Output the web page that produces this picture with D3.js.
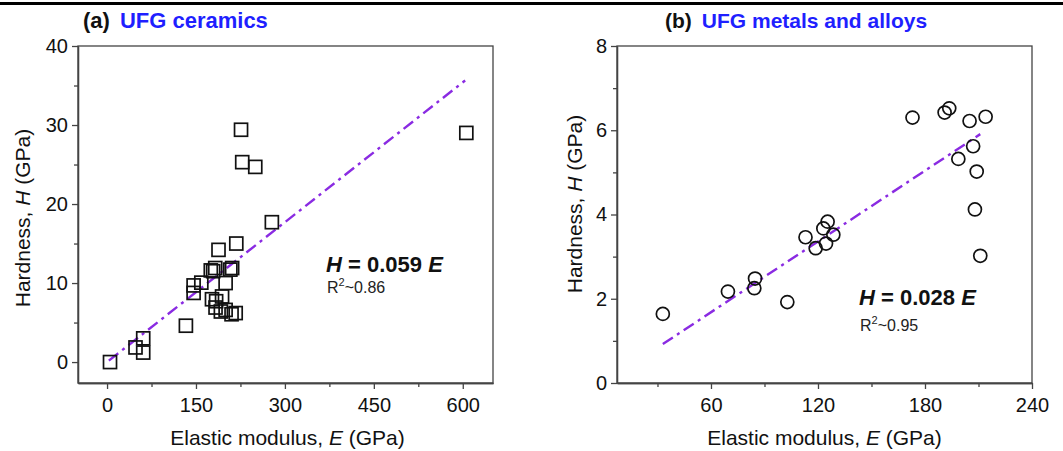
<!DOCTYPE html>
<html>
<head>
    <title>Hardness vs Elastic modulus</title>
    <script src="https://d3js.org/d3.v7.min.js"></script>
    <style>
        body { margin: 0; background: #fff; }
        text { font-family: "Liberation Sans", Arial, sans-serif; }
    </style>
</head>
<body>
    <svg width="1063" height="451"></svg>
    <script>
        // (a) UFG ceramics: elastic modulus E (GPa) and hardness H (GPa)
        const ceramicE = [5, 48, 61, 61, 133, 146, 146, 159, 175, 179, 182.5, 188, 218, 208, 211,
                          200, 177, 194, 184, 183, 192, 200, 210, 217, 226, 228, 250, 278, 606];
        const ceramicH = [0, 1.85, 3.0, 1.2, 4.6, 9.7, 8.75, 10.05, 11.6, 11.5, 11.9, 14.2, 15.0, 11.7, 11.9,
                          10.0, 7.95, 8.3, 7.7, 6.9, 6.4, 6.6, 6.05, 6.2, 29.4, 25.3, 24.7, 17.7, 29.0];

        // (b) UFG metals and alloys
        const metalE = [33, 69.5, 84.7, 84.3, 102.8, 113, 118.7, 123, 125.4, 124.5, 128.6,
                        173, 191, 193.6, 205, 214, 207, 198.7, 209, 208, 211];
        const metalH = [1.64, 2.17, 2.48, 2.25, 1.92, 3.46, 3.2, 3.67, 3.83, 3.31, 3.52,
                        6.3, 6.42, 6.52, 6.22, 6.32, 5.62, 5.32, 5.02, 4.12, 3.02];

        // linear fits through origin, plotted over the data range
        const ceramicSlope = 0.059, ceramicFitRange = [3, 604];
        const metalSlope = 0.028, metalFitRange = [33, 211];

        // tick values
        const ceramicXTicks = [0, 150, 300, 450, 600];
        const ceramicXMinor = [75, 225, 375, 525];
        const ceramicYTicks = [0, 10, 20, 30, 40];
        const ceramicYMinor = [5, 15, 25, 35];
        const metalXTicks = [60, 120, 180, 240];
        const metalXMinor = [30, 90, 150, 210];
        const metalYTicks = [0, 2, 4, 6, 8];
        const metalYMinor = [1, 3, 5, 7];

        const svg = d3.select("svg");
        const fitColor = "#8a2be2";
        const titleColor = "#1f1fff";

        // top rule
        svg.append("rect").attr("x", 0).attr("y", 2).attr("width", 1063).attr("height", 3).attr("fill", "#000");

        function drawPanel(opt) {
            const x = d3.scaleLinear().domain(opt.xDomain).range([opt.left, opt.right]);
            const y = d3.scaleLinear().domain(opt.yDomain).range([opt.bottom, opt.top]);
            const g = svg.append("g");

            // frame
            g.append("rect")
                .attr("x", opt.left).attr("y", opt.top)
                .attr("width", opt.right - opt.left).attr("height", opt.bottom - opt.top)
                .attr("fill", "none").attr("stroke", "#444").attr("stroke-width", 1.3);

            // x axis
            g.append("g")
                .attr("transform", `translate(0,${opt.bottom})`)
                .call(d3.axisBottom(x).tickValues(opt.xTicks).tickSize(6).tickPadding(9).tickSizeOuter(0));
            g.append("g")
                .attr("transform", `translate(0,${opt.bottom})`)
                .call(d3.axisBottom(x).tickValues(opt.xMinor).tickSize(4).tickFormat("").tickSizeOuter(0));

            // y axis
            g.append("g")
                .attr("transform", `translate(${opt.left},0)`)
                .call(d3.axisLeft(y).tickValues(opt.yTicks).tickSize(6).tickPadding(4).tickSizeOuter(0));
            g.append("g")
                .attr("transform", `translate(${opt.left},0)`)
                .call(d3.axisLeft(y).tickValues(opt.yMinor).tickSize(4).tickFormat("").tickSizeOuter(0));

            g.selectAll(".domain").attr("stroke", "#444").attr("stroke-width", 1.3);
            g.selectAll(".tick line").attr("stroke", "#444").attr("stroke-width", 1.3);
            g.selectAll(".tick text")
                .attr("fill", "#111")
                .style("font-size", "20px")
                .style("font-family", "'Liberation Sans', Arial, sans-serif");

            // axis titles
            const xt = g.append("text")
                .attr("x", (opt.left + opt.right) / 2 + opt.xTitleDx).attr("y", 445)
                .attr("text-anchor", "middle").attr("fill", "#111").style("font-size", "21px");
            xt.append("tspan").text("Elastic modulus, ");
            xt.append("tspan").attr("font-style", "italic").text("E");
            xt.append("tspan").text(" (GPa)");

            const yt = g.append("text")
                .attr("transform", `translate(${opt.yTitleX},${opt.yTitleY}) rotate(-90)`)
                .attr("text-anchor", "middle").attr("fill", "#111").style("font-size", "21px");
            yt.append("tspan").text("Hardness, ");
            yt.append("tspan").attr("font-style", "italic").text("H");
            yt.append("tspan").text(" (GPa)");

            // panel title
            const tt = g.append("text")
                .attr("x", opt.titleX).attr("y", 28)
                .attr("font-weight", "bold").style("font-size", opt.titleSize);
            tt.append("tspan").attr("fill", "#111").text(opt.label);
            tt.append("tspan").attr("fill", titleColor).attr("dx", 10).text(opt.title);

            // fit line
            g.append("line")
                .attr("x1", x(opt.fitRange[0])).attr("y1", y(opt.slope * opt.fitRange[0]))
                .attr("x2", x(opt.fitRange[1])).attr("y2", y(opt.slope * opt.fitRange[1]))
                .attr("stroke", fitColor).attr("stroke-width", 2.4)
                .attr("stroke-dasharray", "12,5,3,5");

            // points
            const pts = opt.xs.map((v, i) => ({e: v, h: opt.ys[i]}));
            if (opt.marker === "square") {
                g.selectAll(".pt").data(pts).enter().append("rect")
                    .attr("class", "pt")
                    .attr("x", d => x(d.e) - 6.5).attr("y", d => y(d.h) - 6.5)
                    .attr("width", 13).attr("height", 13)
                    .attr("fill", "none").attr("stroke", "#111").attr("stroke-width", 1.7);
            } else {
                g.selectAll(".pt").data(pts).enter().append("circle")
                    .attr("class", "pt")
                    .attr("cx", d => x(d.e)).attr("cy", d => y(d.h)).attr("r", 6.5)
                    .attr("fill", "none").attr("stroke", "#111").attr("stroke-width", 1.7);
            }

            // equation
            const eq = g.append("text")
                .attr("x", opt.eqX).attr("y", opt.eqY)
                .attr("font-weight", "bold").attr("fill", "#111").style("font-size", "22px");
            eq.append("tspan").attr("font-style", "italic").text("H");
            eq.append("tspan").text(" = " + opt.slope.toFixed(3) + " ");
            eq.append("tspan").attr("font-style", "italic").text("E");

            const r2 = g.append("text")
                .attr("x", opt.eqX + 1).attr("y", opt.eqY + opt.r2Gap)
                .attr("fill", "#222").style("font-size", "16px");
            r2.append("tspan").text("R");
            r2.append("tspan").attr("dy", -7).style("font-size", "11px").text("2");
            r2.append("tspan").attr("dy", 7).text("~" + opt.r2);
        }

        drawPanel({
            left: 78, right: 493, top: 46, bottom: 383,
            xDomain: [-49, 651], yDomain: [-2.65, 40],
            xTicks: ceramicXTicks, xMinor: ceramicXMinor,
            yTicks: ceramicYTicks, yMinor: ceramicYMinor,
            xs: ceramicE, ys: ceramicH, marker: "square",
            slope: ceramicSlope, fitRange: ceramicFitRange, r2: "0.86",
            label: "(a)", title: "UFG ceramics", titleX: 83, titleSize: "22px",
            eqX: 326, eqY: 272, r2Gap: 21,
            yTitleX: 30, yTitleY: 218, xTitleDx: 2
        });

        drawPanel({
            left: 617, right: 1032, top: 46, bottom: 383,
            xDomain: [7.3, 240], yDomain: [0, 8],
            xTicks: metalXTicks, xMinor: metalXMinor,
            yTicks: metalYTicks, yMinor: metalYMinor,
            xs: metalE, ys: metalH, marker: "circle",
            slope: metalSlope, fitRange: metalFitRange, r2: "0.95",
            label: "(b)", title: "UFG metals and alloys", titleX: 665, titleSize: "21px",
            eqX: 859, eqY: 305, r2Gap: 26,
            yTitleX: 582, yTitleY: 204, xTitleDx: 0
        });
    </script>
</body>
</html>
